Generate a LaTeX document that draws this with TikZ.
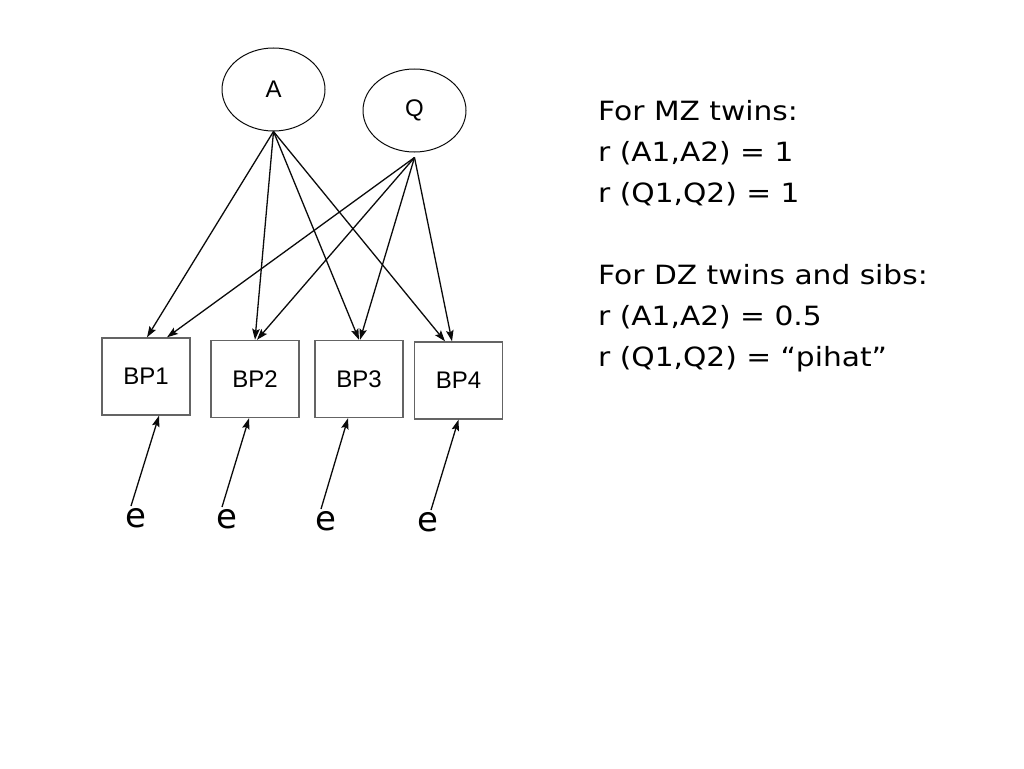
\documentclass[tikz,border=0pt]{standalone}
\usepackage{xcolor}
\usepackage{fontspec}
\setmainfont{Liberation Sans}
\newfontfamily\notefont[FakeStretch=1.12]{DejaVu Sans}
\newfontfamily\errfont{DejaVu Sans}
\usepackage{tikz}
\usetikzlibrary{shapes,arrows.meta,positioning}
\definecolor{edgeline}{RGB}{10,10,10}
\definecolor{boxline}{RGB}{100,100,100}

\begin{document}
\begin{tikzpicture}[
  x=1pt,y=-1pt,
  latent/.style={ellipse,draw=edgeline,line width=1pt,minimum width=103pt,minimum height=83pt,inner sep=0pt,font=\fontsize{24}{28}\selectfont},
  pheno/.style={rectangle,draw=boxline,line width=1.4pt,minimum width=88pt,minimum height=77pt,inner sep=0pt,font=\fontsize{24}{28}\selectfont},
  resid/.style={inner sep=2pt,font=\errfont\fontsize{34}{38}\selectfont},
  arrow/.style={-{Stealth[length=11pt,width=7.5pt,inset=2pt]},line width=1.3pt,edgeline}
]
\useasboundingbox (0,0) rectangle (1024,768);
\node[latent] (a) at (273.5,89.5) {A};
\node[latent] (q) at (414.5,110.5) {Q};
\node[pheno] (bp1) at (146,376.5) {BP1};
\node[pheno] (bp2) at (255,379) {BP2};
\node[pheno] (bp3) at (359,379) {BP3};
\node[pheno] (bp4) at (458.5,380.5) {BP4};
\node[resid] (e1) at (136,518) {e};
\node[resid] (e2) at (227,519) {e};
\node[resid] (e3) at (326,521) {e};
\node[resid] (e4) at (428,522) {e};
\coordinate (qb) at ([yshift=-5pt]q.south);
% additive genetic paths
\draw[arrow] (a.south) -- ([xshift=1pt]bp1.north);
\draw[arrow] (a.south) -- (bp2.north);
\draw[arrow] (a.south) -- (bp3.north);
\draw[arrow] (a.south) -- ([xshift=-13.5pt]bp4.north);
% QTL paths
\draw[arrow] (qb) -- ([xshift=21pt]bp1.north);
\draw[arrow] (qb) -- ([xshift=2pt]bp2.north);
\draw[arrow] (qb) -- ([xshift=1pt]bp3.north);
\draw[arrow] (qb) -- ([xshift=-6.5pt]bp4.north);
% residuals
\draw[arrow] ([xshift=-5pt]e1.north) -- ([xshift=13pt]bp1.south);
\draw[arrow] ([xshift=-5pt]e2.north) -- ([xshift=-6pt]bp2.south);
\draw[arrow] ([xshift=-5pt]e3.north) -- ([xshift=-11pt]bp3.south);
\draw[arrow] ([xshift=3pt]e4.north) -- ([xshift=0pt]bp4.south);
\node[anchor=north west,inner sep=0pt,align=left,font=\notefont\fontsize{26.5}{41}\selectfont] (notes) at (598,100)
  {For MZ twins:\\ r (A1,A2) = 1\\ r (Q1,Q2) = 1\\[41pt] For DZ twins and sibs:\\ r (A1,A2) = 0.5\\ r (Q1,Q2) = “pihat”};
\end{tikzpicture}
\end{document}
